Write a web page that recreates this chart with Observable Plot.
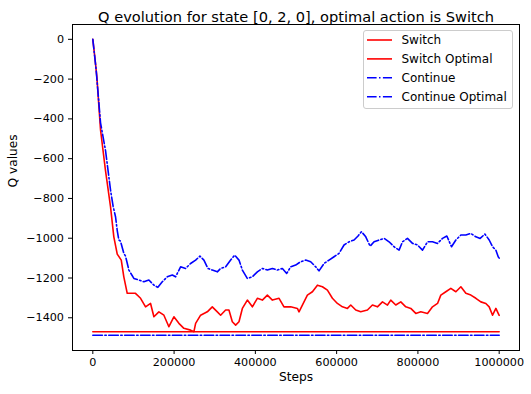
<!DOCTYPE html>
<html>
<head>
<meta charset="utf-8">
<script src="https://cdn.jsdelivr.net/npm/d3@7"></script>
<script src="https://cdn.jsdelivr.net/npm/@observablehq/plot@0.6"></script>
<style>
  body { margin: 0; background: white; }
  #chart svg { display: block; }
</style>
</head>
<body>
<div id="chart"></div>
<script>
const titleText = "Q evolution for state [0, 2, 0], optimal action is Switch";
const xLabel = "Steps";
const yLabel = "Q values";
const seriesNames = ["Switch", "Switch Optimal", "Continue", "Continue Optimal"];
const xTicks = [0, 200000, 400000, 600000, 800000, 1000000];
const yTicks = [0, -200, -400, -600, -800, -1000, -1200, -1400];

const switchSteps = [0, 5000, 10000, 19000, 31000, 43600, 51700, 60100, 70000, 76300, 84700, 105000, 117500, 129800, 142100, 150300, 162600, 174900, 187200, 199500, 211800, 224100, 240600, 248800, 253000, 265300, 281700, 294000, 306400, 314500, 326800, 335000, 343300, 351500, 359700, 368000, 380300, 392600, 404900, 417200, 429500, 441900, 458300, 470400, 486900, 503400, 507400, 515700, 528000, 540400, 552700, 565000, 577300, 589600, 601900, 614300, 626600, 634700, 647000, 659300, 675800, 688100, 700400, 712800, 725100, 733200, 745500, 757900, 770200, 782500, 794800, 807100, 823600, 835900, 848300, 856400, 868700, 881000, 893400, 905700, 918000, 930300, 942600, 954900, 967200, 975400, 983700, 991900, 997600, 1000000];
const switchQ = [0, -90, -190, -456, -657, -842, -993, -1080, -1110, -1194, -1277, -1277, -1302, -1345, -1328, -1395, -1370, -1387, -1445, -1395, -1428, -1453, -1462, -1470, -1428, -1387, -1370, -1345, -1370, -1387, -1361, -1361, -1420, -1437, -1420, -1353, -1311, -1345, -1302, -1311, -1286, -1311, -1302, -1345, -1345, -1353, -1370, -1336, -1286, -1269, -1236, -1244, -1261, -1302, -1328, -1345, -1353, -1336, -1361, -1370, -1361, -1336, -1345, -1320, -1336, -1311, -1336, -1320, -1345, -1353, -1378, -1370, -1378, -1345, -1328, -1286, -1269, -1252, -1269, -1244, -1277, -1286, -1302, -1320, -1328, -1345, -1387, -1353, -1378, -1388];

const continueSteps = [0, 8000, 19000, 31300, 43600, 50000, 55900, 60000, 64000, 68200, 76300, 80500, 88700, 101000, 113300, 125600, 138000, 150300, 160100, 170900, 183200, 195600, 203700, 216000, 228300, 240600, 253000, 263500, 273400, 283300, 294000, 306400, 314500, 326800, 339200, 349000, 359700, 368000, 380300, 392600, 404900, 417200, 429500, 441900, 454200, 466500, 477100, 486900, 499200, 511500, 523800, 536100, 548500, 556600, 569000, 581300, 593600, 605900, 618200, 630500, 642900, 652700, 661100, 671700, 682300, 692100, 704400, 716800, 729000, 741400, 753700, 762000, 774300, 786700, 799000, 811300, 823600, 835900, 848300, 860600, 871200, 882700, 893400, 905700, 918000, 930300, 942600, 953200, 964800, 975400, 983700, 991900, 997600, 1000000];
const continueQ = [0, -150, -420, -560, -758, -840, -892, -960, -1009, -1015, -1076, -1090, -1160, -1202, -1210, -1219, -1210, -1236, -1247, -1219, -1194, -1185, -1194, -1144, -1152, -1127, -1110, -1090, -1110, -1152, -1160, -1169, -1152, -1144, -1110, -1085, -1110, -1160, -1202, -1194, -1169, -1152, -1160, -1152, -1160, -1152, -1177, -1144, -1135, -1118, -1110, -1118, -1144, -1164, -1127, -1110, -1093, -1076, -1034, -1018, -1009, -989, -967, -993, -1040, -1018, -1009, -1001, -1018, -1043, -1060, -1018, -1001, -1026, -1034, -1060, -1018, -1018, -1026, -1001, -989, -1043, -1009, -984, -984, -976, -993, -1001, -979, -1009, -1043, -1060, -1093, -1100];

const optimalSteps = [0, 1000000];
const switchOptimalQ = -1470;
const continueOptimalQ = -1488;

const switchData = switchSteps.map((s, i) => ({step: s, q: switchQ[i]}));
const continueData = continueSteps.map((s, i) => ({step: s, q: continueQ[i]}));
const switchOptData = optimalSteps.map(s => ({step: s, q: switchOptimalQ}));
const continueOptData = optimalSteps.map(s => ({step: s, q: continueOptimalQ}));

const dashDot = "9.6,2.4,1.5,2.4";
const colors = ["#ff0000", "#ff0000", "#0000ff", "#0000ff"];
const dashes = [null, null, dashDot, dashDot];

const fmtY = d => d < 0 ? "\u2212" + Math.abs(d) : String(d);

const W = 531, H = 394;
const plot = Plot.plot({
  width: W,
  height: H,
  marginLeft: 72,
  marginRight: 12,
  marginTop: 24,
  marginBottom: 44,
  style: {fontFamily: "'DejaVu Sans', sans-serif", fontSize: "11px", background: "white", color: "black"},
  x: {domain: [-50000, 1050000]},
  y: {domain: [-1564.5, 74.5]},
  marks: [
    Plot.line(switchData, {x: "step", y: "q", stroke: colors[0], strokeWidth: 1.6}),
    Plot.line(switchOptData, {x: "step", y: "q", stroke: colors[1], strokeWidth: 1.6}),
    Plot.line(continueData, {x: "step", y: "q", stroke: colors[2], strokeWidth: 1.6, strokeDasharray: dashDot}),
    Plot.line(continueOptData, {x: "step", y: "q", stroke: colors[3], strokeWidth: 1.6, strokeDasharray: dashDot}),
    Plot.axisX({ticks: xTicks, tickFormat: d => String(d), tickSize: 4, tickPadding: 3.5, label: null, fontSize: 11.2}),
    Plot.axisY({ticks: yTicks, tickFormat: fmtY, tickSize: 4, tickPadding: 4.5, label: null, fontSize: 11.2}),
    Plot.frame({stroke: "black", strokeWidth: 1}),
    Plot.text([titleText], {frameAnchor: "top", dy: -13, fontSize: 14.6, fill: "black"}),
    Plot.text([xLabel], {frameAnchor: "bottom", dy: 30, fontSize: 12.2, fill: "black"}),
    Plot.text([yLabel], {frameAnchor: "left", dx: -59, rotate: -90, fontSize: 12.2, fill: "black"})
  ]
});
document.getElementById("chart").appendChild(plot);

// Legend (matplotlib-style, upper right)
const svg = d3.select(plot);
const lg = svg.append("g")
  .attr("font-family", "'DejaVu Sans', sans-serif")
  .attr("font-size", 12)
  .attr("text-anchor", "start");
lg.append("rect")
  .attr("x", 363.5).attr("y", 30.5).attr("width", 149).attr("height", 78)
  .attr("rx", 2.5).attr("fill", "white").attr("fill-opacity", 0.8)
  .attr("stroke", "#cccccc").attr("stroke-width", 1);
seriesNames.forEach((name, i) => {
  const y = 40 + i * 18.9;
  lg.append("line")
    .attr("x1", 367).attr("x2", 392).attr("y1", y).attr("y2", y)
    .attr("stroke", colors[i]).attr("stroke-width", 1.6)
    .attr("stroke-dasharray", dashes[i]);
  lg.append("text")
    .attr("x", 401.5).attr("y", y).attr("dy", "0.35em")
    .attr("text-anchor", "start")
    .attr("fill", "black").text(name);
});
</script>
</body>
</html>
